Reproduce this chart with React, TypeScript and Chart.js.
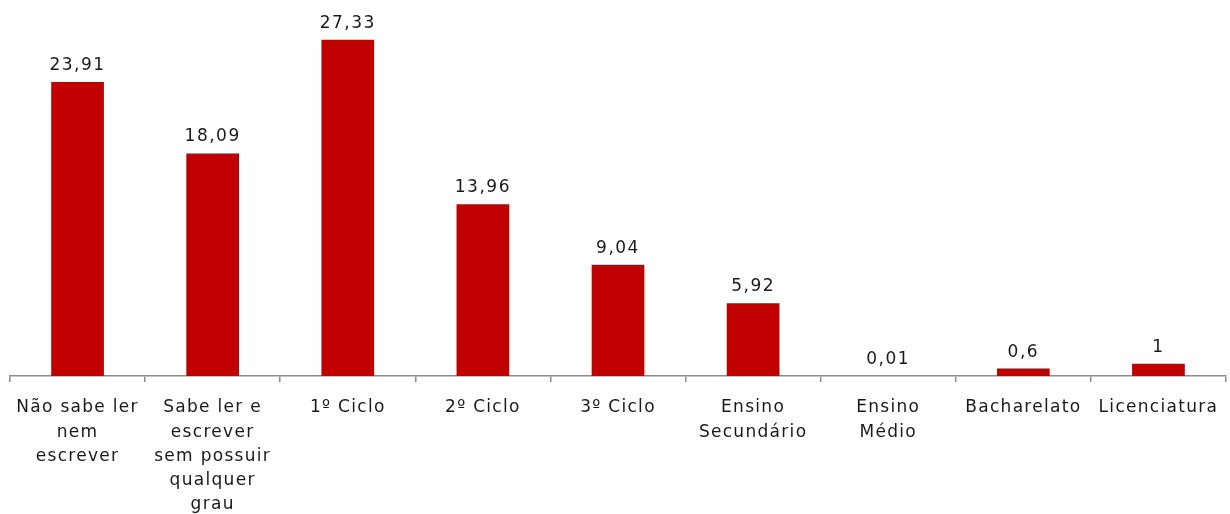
import React, { useEffect, useRef } from "react";
import { Chart, registerables } from "chart.js";

Chart.register(...registerables);

const categories: string[][] = [
  ["Não sabe ler", "nem", "escrever"],
  ["Sabe ler e", "escrever", "sem possuir", "qualquer", "grau"],
  ["1º Ciclo"],
  ["2º Ciclo"],
  ["3º Ciclo"],
  ["Ensino", "Secundário"],
  ["Ensino", "Médio"],
  ["Bacharelato"],
  ["Licenciatura"],
];
const values: number[] = [23.91, 18.09, 27.33, 13.96, 9.04, 5.92, 0.01, 0.6, 1];

const FONT = "'DejaVu Sans', Verdana, sans-serif";

const spacing = {
  id: "spacing",
  beforeDraw(chart: any) {
    chart.ctx.letterSpacing = "1.3px";
  },
};

const valueLabels = {
  id: "valueLabels",
  afterDatasetsDraw(chart: any) {
    const ctx = chart.ctx;
    const meta = chart.getDatasetMeta(0);
    ctx.save();
    ctx.letterSpacing = "1.5px";
    ctx.font = `17px ${FONT}`;
    ctx.fillStyle = "#1a1a1a";
    ctx.textAlign = "center";
    ctx.textBaseline = "bottom";
    meta.data.forEach((bar: any, i: number) => {
      const txt = String(values[i]).replace(".", ",");
      ctx.fillText(txt, bar.x, bar.y - 8);
    });
    ctx.restore();
  },
};

export default function App() {
  const ref = useRef<HTMLCanvasElement>(null);
  useEffect(() => {
    if (!ref.current) return;
    const chart = new Chart(ref.current, {
      type: "bar",
      data: {
        labels: categories as any,
        datasets: [
          {
            data: values,
            backgroundColor: "#C00000",
            borderWidth: 0,
            barPercentage: 0.78,
            categoryPercentage: 0.5,
          },
        ],
      },
      options: {
        animation: false,
        responsive: false,
        maintainAspectRatio: false,
        layout: { padding: { left: 10, right: 4, top: 7, bottom: 0 } },
        plugins: { legend: { display: false }, tooltip: { enabled: false } },
        scales: {
          y: { display: false, min: 0, max: 30 },
          x: {
            afterFit: (s: any) => {
              s.height = 138;
            },
            border: { display: true, color: "#8c8c8c", width: 1.5 },
            grid: {
              offset: true,
              drawOnChartArea: false,
              drawTicks: true,
              tickLength: 6,
              color: "#8c8c8c",
              lineWidth: 1.5,
            },
            ticks: {
              color: "#1a1a1a",
              font: { family: FONT, size: 17, lineHeight: 1.42 },
              padding: 14,
              maxRotation: 0,
              autoSkip: false,
            },
          },
        },
      },
      plugins: [spacing, valueLabels],
    });
    return () => chart.destroy();
  }, []);
  return (
    <div style={{ position: "absolute", left: 0, top: 0, width: 1230, height: 514 }}>
      <canvas ref={ref} width={1230} height={514} style={{ width: 1230, height: 514 }} />
    </div>
  );
}
